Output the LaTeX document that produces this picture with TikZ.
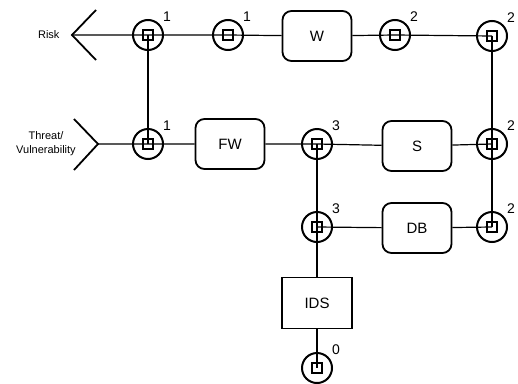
\documentclass[tikz,border=0pt]{standalone}
\usepackage{fontspec}
\setmainfont{Liberation Sans}
\usetikzlibrary{positioning}

\begin{document}
\begin{tikzpicture}[  x=1pt,  y=-1pt,  font=\fontsize{15}{17}\selectfont,  every node/.style={align=center},  port/.style={draw, circle, line width=2pt, minimum size=30pt, inner sep=0pt},  cell/.style={draw, line width=1.2pt, minimum size=10pt, inner sep=0pt},  comp/.style={draw, rounded corners=9pt, line width=1.8pt, minimum width=69pt, minimum height=50pt},  tag/.style={font=\fontsize{14}{16}\selectfont},  side/.style={font=\fontsize{11}{14}\selectfont},  link/.style={line width=1.2pt},  ]

  \useasboundingbox (0,0) rectangle (518,383);

  % ports with their levels
  \foreach \n/\x/\y/\l in {p1/148/35/1, p2/228/35/1, p3/395/35/2, p4/492/36/2,
                           p5/148/144/1, p6/317/144/3, p7/492/144/2,
                           p8/317/227/3, p9/492/227/2, p10/317/368/0} {
    \node[port] (\n) at (\x,\y) {};
    \node[cell] at (\n) {};
    \node[tag] at (\x+19,\y-18) {\l};
  }

  % components
  \node[comp] (W) at (317,36) {W};
  \node[comp] (FW) at (230,144) {FW};
  \node[comp] (S) at (417,146) {S};
  \node[comp] (DB) at (417,228) {DB};
  \node[comp, rounded corners=0pt, minimum width=70pt, minimum height=51pt] (IDS) at (317,303) {IDS};

  % entry points
  \coordinate (riskTip) at (72,35);
  \coordinate (threatTip) at (98,144);
  \node[side, anchor=east] (risk) at (63,35) {Risk};
  \node[side] (threat) at (46,144) {Threat/\\Vulnerability};
  \draw[line width=1.8pt] (96,10) -- (riskTip) -- (96,60);
  \draw[line width=1.8pt] (74,119) -- (threatTip) -- (74,170);

  % connectors
  \draw[link] (riskTip) -- (p1.center) -- (p2.center)
    (p2.center) -- (W) (W) -- (p3.center) -- (p4.center);
  \draw[link] (threatTip) -- (p5.center)
    (p5.center) -- (FW) (FW) -- (p6.center)
    (p6.center) -- (S) (S) -- (p7.center);
  \draw[link] (p8.center) -- (DB) (DB) -- (p9.center);
  \draw[link] (p1.center) -- (p5.center);
  \draw[link] (p4.center) -- (p7.center) -- (p9.center);
  \draw[link] (p6.center) -- (p8.center);
  \draw[link] (p8.center) -- (IDS) (IDS) -- (p10.center);
\end{tikzpicture}
\end{document}
